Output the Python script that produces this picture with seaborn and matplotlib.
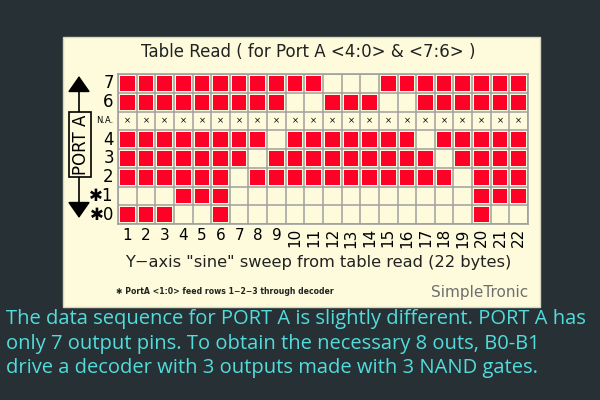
import numpy as np
import matplotlib
matplotlib.use('Agg')
import matplotlib.pyplot as plt
import seaborn as sns
from matplotlib.colors import ListedColormap
from matplotlib.patches import Rectangle, FancyArrowPatch

# ── Data: which bits are set in each of the 22 table bytes ─────
COLS = [str(i) for i in range(1, 23)]
ROW_LABELS = ['7', '6', 'N.A.', '4', '3', '2', '\u27311', '\u27310']

bit7 = [1,1,1,1,1,1,1,1,1,1,1,0,0,0,1,1,1,1,1,1,1,1]
bit6 = [1,1,1,1,1,1,1,1,1,0,0,1,1,1,0,0,1,1,1,1,1,1]
bitNA = [0] * 22
bit4 = [1,1,1,1,1,1,1,1,0,1,1,1,1,1,1,1,0,1,1,1,1,1]
bit3 = [1,1,1,1,1,1,1,0,1,1,1,1,1,1,1,1,1,0,1,1,1,1]
bit2 = [1,1,1,1,1,1,0,1,1,1,1,1,1,1,1,1,1,1,0,1,1,1]
bit1 = [0,0,0,1,1,1,0,0,0,0,0,0,0,0,0,0,0,0,0,1,1,1]
bit0 = [1,1,1,0,0,1,0,0,0,0,0,0,0,0,0,0,0,0,0,1,0,0]

grid = np.array([bit7, bit6, bitNA, bit4, bit3, bit2, bit1, bit0])
annot = np.full(grid.shape, '', dtype=object)
annot[2, :] = '\u00d7'

BG = '#263035'
PANEL = '#fdfbdc'
RED = '#ff0026'
CYAN = '#52dcdc'
GRIDC = '#a0a0a0'

fig = plt.figure(figsize=(6, 4), dpi=100)
fig.patch.set_facecolor(BG)

# background axes in pixel coords (0..600, 0..400 from top)
bg = fig.add_axes([0, 0, 1, 1], zorder=0)
bg.set_xlim(0, 600)
bg.set_ylim(400, 0)
bg.axis('off')
bg.add_patch(Rectangle((63, 37), 477, 270, facecolor=PANEL,
                       edgecolor='#d8d6c0', lw=1))

# PORT A arrow and box
for y_end in (76, 218):
    bg.add_patch(FancyArrowPatch((79, 145), (79, y_end),
                                 arrowstyle='-|>,head_width=7,head_length=10',
                                 color='black', lw=1.2, shrinkA=0, shrinkB=0))
bg.add_patch(Rectangle((69, 112), 22, 65, facecolor=PANEL,
                       edgecolor='black', lw=1.2, zorder=3))
bg.text(80.5, 145, 'PORT A', rotation=90, ha='center', va='center',
        fontsize=12, color='black', zorder=4)

bg.text(308, 52, 'Table Read ( for Port A <4:0> & <7:6> )',
        ha='center', va='center', fontsize=12, color='#222222')
bg.text(318, 262, 'Y\u2212axis "sine" sweep from table read (22 bytes)',
        ha='center', va='center', fontsize=11.7, color='#222222')
bg.text(116, 291, '\u2731 PortA <1:0> feed rows 1\u22122\u22123 through decoder',
        ha='left', va='center', fontsize=5.6, fontweight='bold', color='#222222')
bg.text(528, 292, 'SimpleTronic', ha='right', va='center',
        fontsize=11, color='#6e6e6e')

body = ('The data sequence for PORT A is slightly different. PORT A has\n'
        'only 7 output pins. To obtain the necessary 8 outs, B0-B1\n'
        'drive a decoder with 3 outputs made with 3 NAND gates.')
bg.text(6, 309, body, ha='left', va='top', fontsize=14.5,
        color=CYAN, family='Open Sans', linespacing=1.3)

# ── Bit grid ────────────────────────────────────────────────────
ax = fig.add_axes([118/600, 1-224/400, 410/600, 150/400], zorder=2)
sns.heatmap(grid, ax=ax, cmap=ListedColormap([PANEL, RED]), cbar=False,
            vmin=0, vmax=1, linewidths=2.6, linecolor=PANEL,
            annot=annot, fmt='', annot_kws={'size': 6, 'color': 'black'},
            xticklabels=COLS, yticklabels=ROW_LABELS)
nr, nc = grid.shape
ax.hlines(range(nr + 1), 0, nc, color=GRIDC, lw=1.1)
ax.vlines(range(nc + 1), 0, nr, color=GRIDC, lw=1.1)
for s in ax.spines.values():
    s.set_visible(True)
    s.set_color(GRIDC)
    s.set_linewidth(1.2)
ax.tick_params(length=0, pad=3)
for i, t in enumerate(ax.get_xticklabels()):
    t.set_fontsize(11)
    t.set_rotation(90 if i >= 9 else 0)
    t.set_va('top')
    t.set_ha('center')
for t in ax.get_yticklabels():
    t.set_rotation(0)
    t.set_fontsize(6 if t.get_text() == 'N.A.' else 12)

fig.savefig('out.png', dpi=100, facecolor=BG)
